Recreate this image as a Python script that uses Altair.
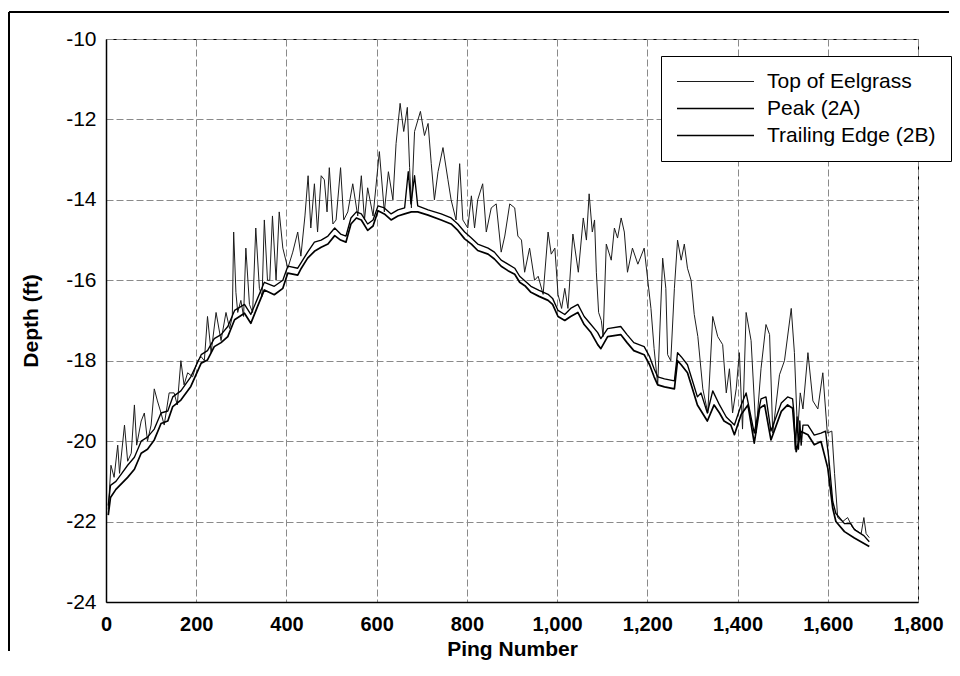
import altair as alt
import pandas as pd

series_names = ["Top of Eelgrass", "Peak (2A)", "Trailing Edge (2B)"]
x_ticks = [0, 200, 400, 600, 800, 1000, 1200, 1400, 1600, 1800]
y_ticks = [-24, -22, -20, -18, -16, -14, -12, -10]

# (ping, depth)
top_of_eelgrass = [
    (5, -21.7), (11, -20.6), (18, -20.9), (26, -20.1), (30, -20.8), (41, -19.6), (48, -20.5),
    (56, -20.3), (63, -19.1), (68, -20.1), (78, -19.5), (85, -19.3), (92, -20.0), (100, -19.6),
    (107, -18.7), (114, -19.0), (122, -19.3), (129, -19.6), (140, -18.8), (151, -18.8),
    (158, -19.1), (166, -18.0), (173, -18.6), (181, -18.3), (192, -18.4), (203, -18.0),
    (211, -17.9), (218, -18.0), (225, -16.9), (233, -17.8), (244, -16.8), (255, -17.5),
    (266, -16.8), (274, -17.2), (280, -16.9), (283, -14.8), (288, -16.3), (292, -16.8),
    (299, -16.5), (305, -16.9), (310, -15.2), (318, -16.6), (325, -16.8), (332, -14.7),
    (340, -16.2), (346, -16.4), (351, -14.5), (358, -16.0), (363, -16.0), (369, -14.4),
    (377, -16.0), (384, -14.3), (392, -15.2), (403, -15.7), (414, -15.3), (425, -14.8),
    (432, -15.4), (441, -14.4), (448, -13.4), (454, -14.7), (462, -13.6), (469, -14.8),
    (477, -13.4), (484, -13.5), (490, -14.3), (495, -13.2), (503, -14.6), (510, -14.5),
    (520, -13.2), (527, -14.5), (536, -14.3), (547, -13.6), (558, -14.4), (566, -13.4),
    (573, -14.5), (580, -13.7), (592, -14.4), (606, -12.8), (617, -14.3), (626, -13.3),
    (636, -14.0), (643, -12.6), (652, -11.6), (660, -12.3), (668, -11.7), (673, -13.2),
    (677, -14.2), (684, -12.3), (697, -11.8), (706, -12.4), (714, -12.1), (721, -13.1),
    (728, -14.0), (736, -13.3), (747, -12.7), (758, -13.5), (765, -14.0), (776, -14.5),
    (784, -13.1), (791, -14.5), (802, -14.7), (810, -13.9), (817, -14.7), (824, -14.0),
    (835, -13.6), (843, -14.8), (854, -14.2), (865, -14.1), (876, -15.3), (884, -14.9),
    (895, -14.1), (906, -14.2), (913, -14.9), (921, -15.0), (928, -15.8), (939, -15.2),
    (950, -16.0), (958, -15.9), (969, -16.35), (980, -14.8), (987, -15.35), (995, -15.2),
    (1002, -16.35), (1010, -16.7), (1017, -16.2), (1024, -16.7), (1035, -14.85),
    (1047, -15.8), (1058, -14.45), (1065, -15.0), (1071, -13.85), (1078, -14.8),
    (1083, -14.5), (1087, -15.8), (1092, -16.8), (1098, -17.0), (1102, -17.4),
    (1109, -15.1), (1120, -15.5), (1127, -14.7), (1134, -14.95), (1142, -14.45),
    (1149, -14.8), (1156, -15.8), (1167, -15.2), (1179, -15.6), (1193, -15.2),
    (1201, -16.0), (1208, -16.7), (1215, -17.7), (1223, -18.6), (1234, -15.45),
    (1241, -16.2), (1245, -17.85), (1252, -18.0), (1260, -16.2), (1267, -15.0),
    (1275, -15.5), (1282, -15.1), (1289, -15.7), (1297, -16.0), (1304, -16.85),
    (1312, -17.4), (1323, -18.7), (1334, -19.3), (1345, -16.9), (1356, -17.4),
    (1367, -17.6), (1375, -18.8), (1382, -18.2), (1389, -19.3), (1397, -18.7),
    (1404, -17.8), (1411, -19.7), (1419, -16.8), (1430, -17.5), (1441, -19.8),
    (1452, -18.2), (1463, -17.1), (1471, -17.35), (1478, -19.8), (1493, -18.35),
    (1504, -18.0), (1519, -16.7), (1526, -17.8), (1533, -19.8), (1539, -18.8),
    (1545, -19.2), (1556, -17.8), (1567, -19.0), (1578, -19.2), (1589, -18.3),
    (1599, -19.8), (1609, -19.75), (1615, -20.8), (1622, -21.9), (1633, -22.0),
    (1644, -21.9), (1655, -22.15), (1667, -22.25), (1674, -22.3), (1680, -21.9),
    (1685, -22.3), (1692, -22.4),
]

peak_2a = [
    (5, -21.6), (10, -21.1), (22, -21.0), (35, -20.8), (48, -20.6), (63, -20.4), (78, -20.0),
    (92, -19.9), (107, -19.7), (122, -19.3), (137, -19.25), (148, -18.9), (166, -18.75),
    (188, -18.4), (211, -17.85), (225, -17.75), (240, -17.45), (255, -17.35), (270, -17.15),
    (285, -16.75), (307, -16.6), (321, -16.85), (336, -16.45), (351, -16.05), (373, -16.15),
    (392, -16.0), (403, -15.65), (425, -15.7), (447, -15.3), (462, -15.05), (477, -15.0),
    (492, -14.9), (507, -14.7), (520, -14.85), (532, -14.9), (543, -14.45), (555, -14.3),
    (566, -14.35), (580, -14.6), (592, -14.5), (603, -14.15), (617, -14.2), (632, -14.35),
    (647, -14.25), (662, -14.2), (670, -13.3), (676, -14.1), (684, -13.4), (691, -14.15),
    (714, -14.25), (743, -14.35), (765, -14.45), (780, -14.6), (795, -14.8), (810, -14.95),
    (824, -15.1), (847, -15.2), (861, -15.3), (876, -15.5), (891, -15.6), (906, -15.7),
    (917, -15.9), (942, -16.15), (960, -16.25), (980, -16.35), (990, -16.45), (1002, -16.75),
    (1017, -16.85), (1030, -16.7), (1046, -16.6), (1060, -16.9), (1075, -17.1),
    (1090, -17.3), (1097, -17.45), (1112, -17.2), (1141, -17.15), (1155, -17.35),
    (1170, -17.55), (1193, -17.65), (1205, -17.9), (1215, -18.2), (1223, -18.4),
    (1238, -18.45), (1260, -18.5), (1267, -17.8), (1275, -17.9), (1289, -18.1),
    (1300, -18.5), (1311, -18.9), (1319, -18.8), (1333, -19.3), (1345, -18.75),
    (1360, -19.1), (1375, -19.4), (1393, -19.6), (1408, -19.1), (1419, -18.8),
    (1437, -19.8), (1452, -18.95), (1463, -18.9), (1474, -19.75), (1497, -19.05),
    (1511, -18.9), (1522, -18.95), (1525, -19.3), (1528, -20.2), (1532, -19.4),
    (1535, -20.2), (1538, -19.5), (1541, -20.1), (1545, -19.6), (1556, -19.6),
    (1570, -19.85), (1585, -19.8), (1595, -19.75), (1602, -20.4), (1611, -21.5),
    (1618, -21.8), (1637, -22.05), (1651, -22.05), (1659, -22.2), (1680, -22.35),
    (1692, -22.5),
]

trailing_2b = [
    (5, -21.84), (10, -21.4), (22, -21.2), (35, -21.05), (48, -20.9), (63, -20.7),
    (78, -20.3), (92, -20.2), (107, -19.97), (122, -19.56), (137, -19.5), (148, -19.14),
    (166, -18.98), (188, -18.64), (211, -18.06), (225, -17.98), (240, -17.65),
    (255, -17.55), (270, -17.4), (285, -16.98), (307, -16.82), (321, -17.07),
    (336, -16.65), (351, -16.24), (373, -16.36), (392, -16.2), (403, -15.82),
    (425, -15.87), (433, -15.7), (447, -15.45), (462, -15.28), (477, -15.18),
    (492, -15.1), (507, -14.89), (520, -15.0), (532, -15.05), (543, -14.6), (555, -14.45),
    (566, -14.5), (580, -14.76), (592, -14.65), (603, -14.27), (617, -14.35),
    (632, -14.5), (647, -14.4), (662, -14.35), (677, -14.3), (691, -14.3), (714, -14.38),
    (743, -14.5), (765, -14.6), (780, -14.76), (795, -14.97), (810, -15.1), (824, -15.26),
    (847, -15.35), (861, -15.47), (876, -15.65), (891, -15.76), (906, -15.85),
    (917, -16.05), (930, -16.15), (942, -16.3), (960, -16.4), (980, -16.5), (990, -16.6),
    (1002, -16.9), (1017, -17.0), (1030, -16.9), (1046, -16.8), (1060, -17.1),
    (1075, -17.3), (1090, -17.6), (1097, -17.7), (1112, -17.4), (1141, -17.35),
    (1155, -17.55), (1170, -17.75), (1193, -17.85), (1205, -18.1), (1215, -18.4),
    (1223, -18.6), (1238, -18.65), (1260, -18.7), (1267, -18.0), (1275, -18.1),
    (1289, -18.3), (1300, -18.7), (1311, -19.1), (1333, -19.5), (1348, -19.1),
    (1360, -19.3), (1370, -19.5), (1385, -19.6), (1393, -19.84), (1408, -19.34),
    (1423, -19.1), (1437, -20.05), (1449, -19.18), (1460, -19.1), (1474, -19.97),
    (1497, -19.26), (1511, -19.1), (1522, -19.18), (1530, -20.26), (1541, -19.76),
    (1556, -19.84), (1570, -20.09), (1585, -20.01), (1600, -20.67), (1611, -21.67),
    (1618, -22.0), (1637, -22.25), (1659, -22.41), (1692, -22.62),
]

rows = []
for name, pts in zip(series_names, [top_of_eelgrass, peak_2a, trailing_2b]):
    for p, d in pts:
        rows.append({"ping": p, "depth": d, "series": name})
df = pd.DataFrame(rows)

FONT = "Liberation Sans"

lines = alt.Chart(df).mark_line(strokeJoin="round").encode(
    x=alt.X(
        "ping:Q",
        scale=alt.Scale(domain=[0, 1800], nice=False),
        axis=alt.Axis(
            values=x_ticks, format=",d", title="Ping Number",
            labelFontSize=20, labelFontWeight="bold", labelPadding=12,
            titleFontSize=21, titlePadding=4, labelFlush=False, labelOverlap=False,
        ),
    ),
    y=alt.Y(
        "depth:Q",
        scale=alt.Scale(domain=[-24, -10], nice=False),
        axis=alt.Axis(
            values=y_ticks, title="Depth (ft)", labelExpr="'' + datum.value",
            labelFontSize=21, labelPadding=10,
            titleFontSize=21, titlePadding=24, labelFlush=False, labelOverlap=False,
        ),
    ),
    color=alt.Color(
        "series:N",
        scale=alt.Scale(domain=series_names, range=["#1c1c1c", "#000000", "#000000"]),
        legend=alt.Legend(
            title=None, orient="none", legendX=555, legendY=17,
            symbolType="stroke", symbolSize=5929, symbolStrokeWidth=2,
            labelFont=FONT, labelFontSize=21, labelColor="#000000", labelOffset=12,
            labelLimit=400, padding=15, rowPadding=5, clipHeight=21,
            strokeColor="#000000", fillColor="#ffffff", cornerRadius=0,
        ),
    ),
    strokeWidth=alt.StrokeWidth(
        "series:N",
        scale=alt.Scale(domain=series_names, range=[1.0, 1.7, 2.4]),
        legend=None,
    ),
)

frame_df = pd.DataFrame({"a": [0]})
frame_left = alt.Chart(frame_df).mark_rule(color="#000000", strokeWidth=2).encode(
    x=alt.value(-97), y=alt.value(-27), y2=alt.value(612)
)
frame_top = alt.Chart(frame_df).mark_rule(color="#000000", strokeWidth=2).encode(
    x=alt.value(-97), x2=alt.value(843), y=alt.value(-27)
)

chart = alt.layer(lines, frame_left, frame_top).properties(
    width=812, height=563,
    padding={"left": 0, "top": 3, "right": 0, "bottom": 6},
    background="#ffffff",
).configure_view(
    stroke="#000000", strokeWidth=1
).configure_axis(
    grid=True, gridColor="#8a8a8a", gridDash=[7, 3], gridWidth=1,
    domainColor="#000000", domainWidth=1.5, ticks=False,
    labelFont=FONT, titleFont=FONT, labelColor="#000000", titleColor="#000000",
    titleFontWeight="bold",
)

chart.save("out.html", embed_options={"renderer": "svg", "actions": False})
